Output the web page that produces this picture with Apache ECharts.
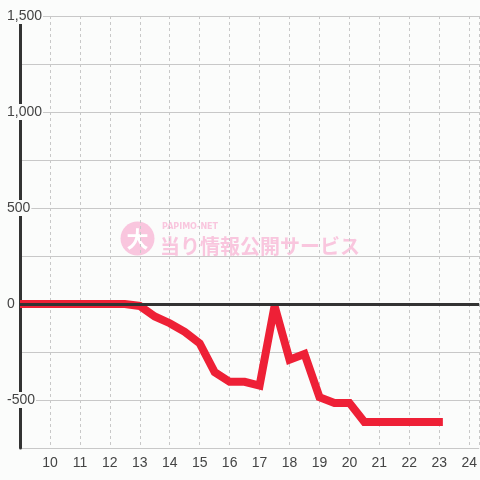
<!DOCTYPE html>
<html>
<head>
<meta charset="utf-8">
<script src="https://cdn.jsdelivr.net/npm/echarts@6/dist/echarts.min.js"></script>
<style>
html,body{margin:0;padding:0;background:#fbfcfb;}
#c{width:480px;height:480px;}
</style>
</head>
<body>
<div id="c"></div>
<script>
var hours = [9, 9.5, 10, 10.5, 11, 11.5, 12, 12.5, 13, 13.5, 14, 14.5, 15, 15.5, 16, 16.5, 17, 17.5, 18, 18.5, 19, 19.5, 20, 20.5, 21, 21.5, 22, 22.5, 23, 23.12];
var balance = [0, 0, 0, 0, 0, 0, 0, 0, -10, -65, -100, -145, -205, -355, -405, -405, -425, -10, -290, -260, -485, -515, -515, -615, -615, -615, -615, -615, -615, -615];
var yTicks = [-500, 0, 500, 1000, 1500];
var xMin = 9, xMax = 24.333;
var yMin = -750, yMax = 1500;

var bg = '#fbfcfb';
var chart = echarts.init(document.getElementById('c'));
var data = hours.map(function (h, i) { return [h, balance[i]]; });

chart.setOption({
  backgroundColor: bg,
  animation: false,
  grid: { left: 20, right: 0, top: 16, bottom: 32 },
  xAxis: {
    type: 'value', min: xMin, max: xMax, interval: 1,
    axisLine: { show: false },
    axisTick: { show: false },
    axisLabel: {
      color: '#444', fontSize: 14, fontFamily: 'Liberation Sans, Arial, sans-serif', margin: 8,
      showMinLabel: false, showMaxLabel: false
    },
    splitLine: { show: true, lineStyle: { color: '#c8c8c8', type: [3, 3], width: 1 } }
  },
  yAxis: {
    type: 'value', min: yMin, max: yMax, interval: 250,
    axisLine: { show: true, lineStyle: { color: '#333', width: 3 } },
    axisTick: { show: false },
    axisLabel: {
      color: '#444', fontSize: 14, fontFamily: 'Liberation Sans, Arial, sans-serif',
      align: 'left', margin: 14,
      backgroundColor: bg, padding: [1, 1],
      formatter: function (v) {
        if (yTicks.indexOf(v) < 0) return '';
        return v.toLocaleString('en-US');
      }
    },
    splitLine: { show: true, lineStyle: { color: '#c8c8c8', width: 1 } }
  },
  graphic: [
    { type: 'circle', shape: { cx: 137.5, cy: 238.5, r: 17 }, style: { fill: '#f9c6de' }, z: 0, silent: true },
    { type: 'text', x: 137.5, y: 239, style: { text: '大', fill: '#ffffff', font: 'bold 22px "Noto Sans CJK JP"', textAlign: 'center', textVerticalAlign: 'middle' }, z: 0, silent: true },
    { type: 'text', x: 162, y: 226.5, style: { text: 'PAPIMO-NET', fill: '#f9c6de', font: 'bold 8px "DejaVu Sans"', textAlign: 'left', textVerticalAlign: 'middle' }, z: 0, silent: true },
    { type: 'text', x: 160, y: 246, style: { text: '当り情報公開サービス', fill: '#f9c6de', font: 'bold 20px "Noto Sans CJK JP"', textAlign: 'left', textVerticalAlign: 'middle' }, z: 0, silent: true }
  ],
  series: [
    {
      type: 'line', data: [], z: 1, silent: true,
      markLine: {
        silent: true, symbol: 'none', label: { show: false },
        lineStyle: { color: '#333', width: 3, type: 'solid' },
        data: [{ yAxis: 0 }]
      }
    },
    {
      type: 'line', data: data, z: 3, showSymbol: false, silent: true,
      lineStyle: { color: '#ee2036', width: 8, cap: 'butt', join: 'miter', miterLimit: 2 }
    }
  ]
});
</script>
</body>
</html>
